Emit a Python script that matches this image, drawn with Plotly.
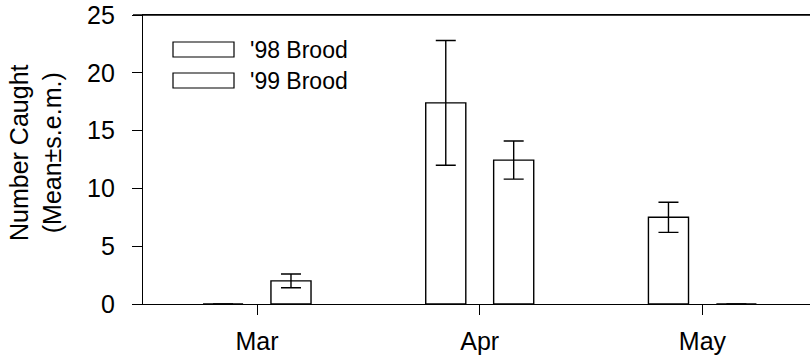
import plotly.graph_objects as go

months = ["Mar", "Apr", "May"]
series_names = ["'98 Brood", "'99 Brood"]
brood98_mean = [0.0, 17.4, 7.5]
brood98_sem = [0.0, 5.4, 1.3]
brood99_mean = [2.0, 12.45, 0.0]
brood99_sem = [0.6, 1.65, 0.0]
y_ticks = [0, 5, 10, 15, 20, 25]
y_title = "Number Caught<br>(Mean±s.e.m.)"

W, H = 810, 358
L, R, T, B = 143, 0, 15, 54
PW, PH = W - L - R, H - T - B

def px2paper(px, py):
    return (px - L) / PW, (H - B - py) / PH

FONT = "Liberation Sans, Arial, Helvetica, sans-serif"
LW = 1.4

fig = go.Figure()
for name, mean, sem in [(series_names[0], brood98_mean, brood98_sem),
                        (series_names[1], brood99_mean, brood99_sem)]:
    fig.add_trace(go.Bar(
        x=months, y=mean, name=name,
        marker=dict(color="white", line=dict(color="black", width=LW)),
        error_y=dict(type="data", array=[s if s > 0 else None for s in sem],
                     visible=True, color="black", thickness=LW, width=10),
        showlegend=False,
    ))

# custom legend (wide boxes like the original)
box_rows = [(42, 57), (73, 88)]
for name, (y0, y1) in zip(series_names, box_rows):
    ax0, ay0 = px2paper(173, y1)
    ax1, ay1 = px2paper(234, y0)
    fig.add_shape(type="rect", xref="paper", yref="paper",
                  x0=ax0, x1=ax1, y0=ay0, y1=ay1,
                  line=dict(color="black", width=1.2), fillcolor="white")
    tx, ty = px2paper(248, (y0 + y1) / 2)
    fig.add_annotation(xref="paper", yref="paper", x=tx, y=ty, text=name,
                       showarrow=False, xanchor="left", yanchor="middle",
                       font=dict(size=23, color="black", family=FONT))

# y-axis title
tx, ty = px2paper(35, 153)
fig.add_annotation(xref="paper", yref="paper", x=tx, y=ty, text=y_title,
                   showarrow=False, textangle=-90, xanchor="center", yanchor="middle",
                   font=dict(size=25, color="black", family=FONT))

# top frame line extends over the tick area like the original
fig.add_shape(type="line", xref="paper", yref="paper",
              x0=px2paper(133, 0)[0], x1=1, y0=1, y1=1,
              line=dict(color="black", width=LW))

fig.update_layout(
    width=W, height=H,
    margin=dict(l=L, r=R, t=T, b=B, pad=0),
    paper_bgcolor="white", plot_bgcolor="white",
    barmode="group", bargap=0.39, bargroupgap=0.41,
    font=dict(family=FONT, size=24, color="black"),
    showlegend=False,
)
fig.update_xaxes(
    range=[-0.512, 2.483], type="category",
    showline=True, linecolor="black", linewidth=LW, mirror=True,
    ticks="outside", ticklen=10, tickwidth=LW, tickcolor="black",
    showgrid=False, zeroline=False,
    tickfont=dict(size=25), ticklabelstandoff=5,
)
fig.update_yaxes(
    range=[0, 25], tickvals=y_ticks,
    showline=True, linecolor="black", linewidth=LW,
    ticks="outside", ticklen=10, tickwidth=LW, tickcolor="black",
    showgrid=False, zeroline=False,
    tickfont=dict(size=25), ticklabelstandoff=12,
)

fig.write_html("out.html")
